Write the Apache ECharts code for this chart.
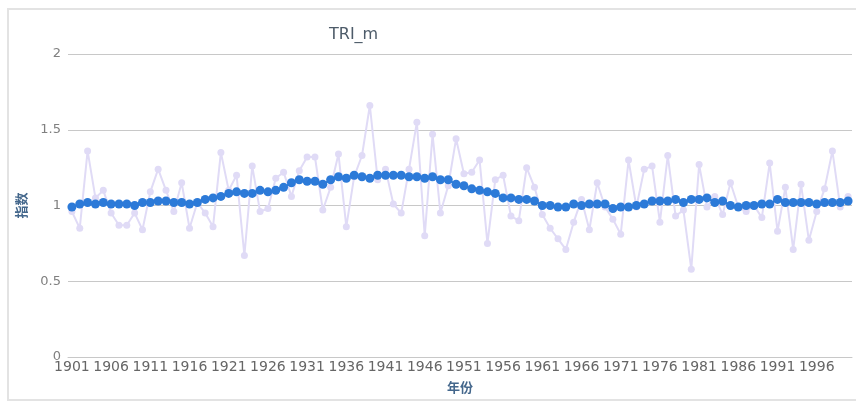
<!DOCTYPE html>
<html>
<head>
<meta charset="utf-8">
<script src="https://cdn.jsdelivr.net/npm/echarts@6/dist/echarts.min.js"></script>
<style>
html,body{margin:0;padding:0;background:#fff;}
#chart{position:absolute;left:0;top:0;width:856px;height:401px;}
#frame{position:absolute;left:7px;top:8px;width:860px;height:389px;border:2px solid #e3e3e3;pointer-events:none;}
</style>
</head>
<body>
<div id="chart"></div>
<div id="frame"></div>
<script>
const titleText = 'TRI_m';
const xName = '年份';
const yName = '指数';
const startYear = 1901;
const endYear = 2000;
const years = [];
for (let y = startYear; y <= endYear; y++) years.push(String(y));

const triValues = [
  0.96, 0.85, 1.36, 1.05, 1.10, 0.95, 0.87, 0.87, 0.95, 0.84,
  1.09, 1.24, 1.10, 0.96, 1.15, 0.85, 1.02, 0.95, 0.86, 1.35,
  1.10, 1.20, 0.67, 1.26, 0.96, 0.98, 1.18, 1.22, 1.06, 1.23,
  1.32, 1.32, 0.97, 1.12, 1.34, 0.86, 1.19, 1.33, 1.66, 1.17,
  1.24, 1.01, 0.95, 1.24, 1.55, 0.80, 1.47, 0.95, 1.13, 1.44,
  1.21, 1.22, 1.30, 0.75, 1.17, 1.20, 0.93, 0.90, 1.25, 1.12,
  0.94, 0.85, 0.78, 0.71, 0.89, 1.04, 0.84, 1.15, 0.99, 0.91,
  0.81, 1.30, 0.99, 1.24, 1.26, 0.89, 1.33, 0.93, 0.97, 0.58,
  1.27, 0.99, 1.06, 0.94, 1.15, 0.99, 0.96, 1.00, 0.92, 1.28,
  0.83, 1.12, 0.71, 1.14, 0.77, 0.96, 1.11, 1.36, 0.99, 1.06
];

const smoothValues = [
  0.99, 1.01, 1.02, 1.01, 1.02, 1.01, 1.01, 1.01, 1.00, 1.02,
  1.02, 1.03, 1.03, 1.02, 1.02, 1.01, 1.02, 1.04, 1.05, 1.06,
  1.08, 1.09, 1.08, 1.08, 1.10, 1.09, 1.10, 1.12, 1.15, 1.17,
  1.16, 1.16, 1.14, 1.17, 1.19, 1.18, 1.20, 1.19, 1.18, 1.20,
  1.20, 1.20, 1.20, 1.19, 1.19, 1.18, 1.19, 1.17, 1.17, 1.14,
  1.13, 1.11, 1.10, 1.09, 1.08, 1.05, 1.05, 1.04, 1.04, 1.03,
  1.00, 1.00, 0.99, 0.99, 1.01, 1.00, 1.01, 1.01, 1.01, 0.98,
  0.99, 0.99, 1.00, 1.01, 1.03, 1.03, 1.03, 1.04, 1.02, 1.04,
  1.04, 1.05, 1.02, 1.03, 1.00, 0.99, 1.00, 1.00, 1.01, 1.01,
  1.04, 1.02, 1.02, 1.02, 1.02, 1.01, 1.02, 1.02, 1.02, 1.03
];

const yMin = 0, yMax = 2, yInterval = 0.5;

const chart = echarts.init(document.getElementById('chart'));
chart.setOption({
  animation: false,
  backgroundColor: '#fff',
  title: {
    text: titleText,
    left: 324,
    top: 22,
    textStyle: { fontFamily: 'DejaVu Sans', fontSize: 16, fontWeight: 'normal', color: '#4d5b69' }
  },
  grid: { left: 68, right: 4, top: 54, bottom: 44, containLabel: false },
  xAxis: {
    type: 'category',
    data: years,
    boundaryGap: true,
    name: xName,
    nameLocation: 'middle',
    nameGap: 24,
    nameTextStyle: { fontFamily: 'Noto Sans CJK SC', fontSize: 13, fontWeight: 'bold', color: '#44678c' },
    axisLine: { lineStyle: { color: '#c8c8c8' } },
    axisTick: { interval: 0, length: 4, lineStyle: { color: '#c8c8c8' } },
    axisLabel: { interval: 4, margin: 3, fontFamily: 'DejaVu Sans', fontSize: 14, color: '#666' }
  },
  yAxis: {
    type: 'value',
    min: yMin,
    max: yMax,
    interval: yInterval,
    name: yName,
    nameLocation: 'middle',
    nameGap: 40,
    nameRotate: 90,
    nameTextStyle: { fontFamily: 'Noto Sans CJK SC', fontSize: 13, fontWeight: 'bold', color: '#44678c' },
    axisLine: { show: false },
    axisTick: { show: false },
    axisLabel: { margin: 7, fontFamily: 'DejaVu Sans', fontSize: 13, color: '#808080' },
    splitLine: { lineStyle: { color: '#c8c8c8' } }
  },
  series: [
    {
      name: 'TRI',
      type: 'line',
      data: triValues,
      symbol: 'circle',
      symbolSize: 7,
      showAllSymbol: true,
      itemStyle: { color: '#e0dbf6' },
      lineStyle: { color: '#e0dbf6', width: 2 },
      z: 2
    },
    {
      name: 'smooth',
      type: 'line',
      data: smoothValues,
      symbol: 'circle',
      symbolSize: 9,
      showAllSymbol: true,
      itemStyle: { color: '#2c7ad8' },
      lineStyle: { color: '#2c7ad8', width: 2 },
      z: 3
    }
  ]
});
</script>
</body>
</html>
